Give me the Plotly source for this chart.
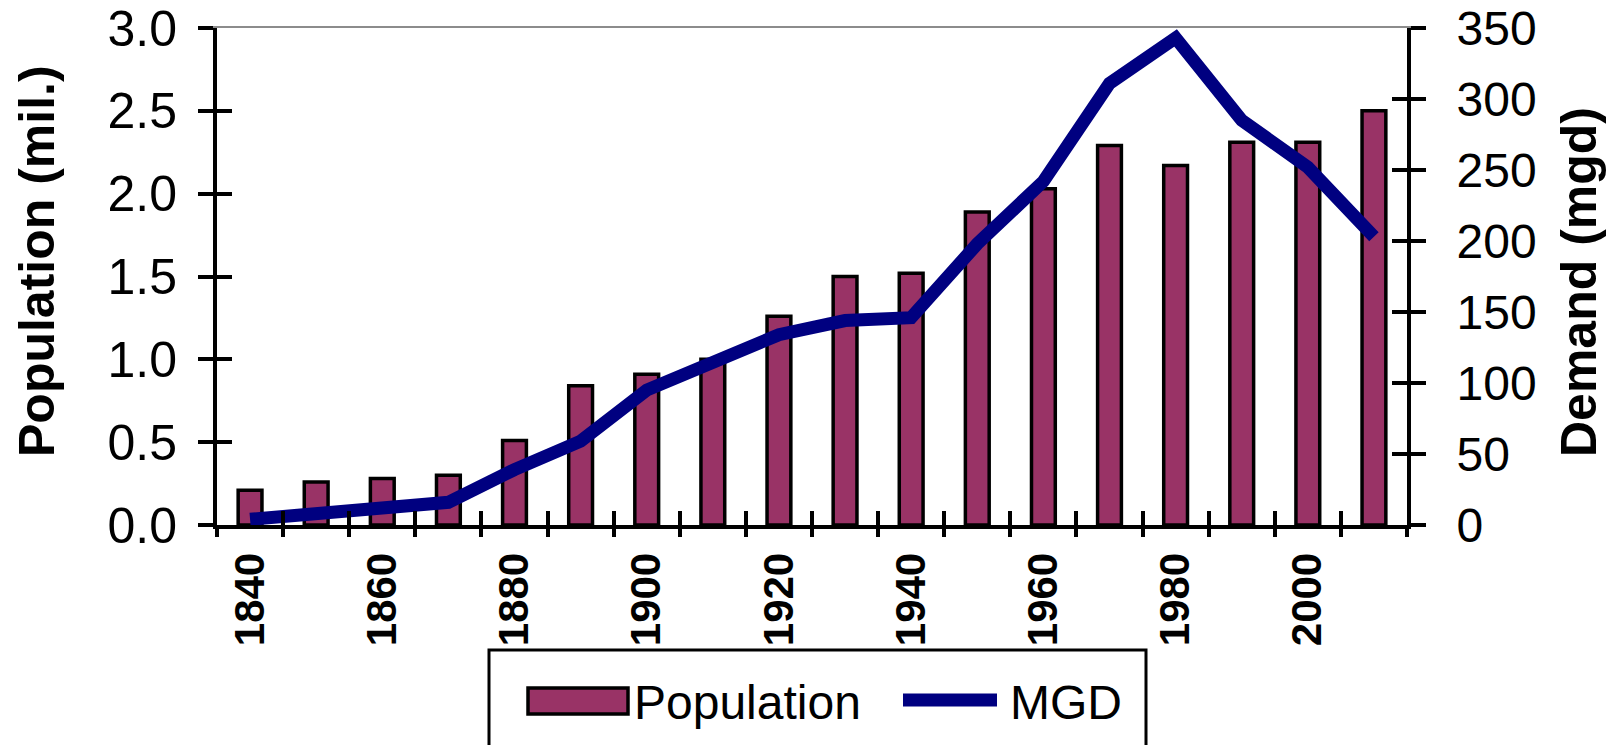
import plotly.graph_objects as go

years = [1840, 1850, 1860, 1870, 1880, 1890, 1900, 1910, 1920,
         1930, 1940, 1950, 1960, 1970, 1980, 1990, 2000, 2010]
population = [0.21, 0.26, 0.28, 0.30, 0.51, 0.84, 0.91, 1.00, 1.26,
              1.50, 1.52, 1.89, 2.03, 2.29, 2.17, 2.31, 2.31, 2.50]
mgd = [4, 8, 11, 16, 39, 59, 95, 114, 134,
       144, 146, 198, 242, 311, 343, 285, 252, 203]
year_labels = [1840, 1860, 1880, 1900, 1920, 1940, 1960, 1980, 2000]
pop_ticks = [0.0, 0.5, 1.0, 1.5, 2.0, 2.5, 3.0]
mgd_ticks = [0, 50, 100, 150, 200, 250, 300, 350]

FONT = "Arial, 'Liberation Sans', sans-serif"
W, H = 1623, 745
L, R, T, B = 217, 1407, 28, 525   # plot area in px

bar_color = "#993366"
line_color = "#000080"

x_range = [years[0] - 5, years[-1] + 5]
boundaries = [y - 5 for y in years] + [years[-1] + 5]


def px(x):
    return (x - L) / (R - L)


def py(y):
    return (B - y) / (B - T)


fig = go.Figure()
fig.add_trace(go.Bar(
              x = years,
              y = population,
              width = 3.6,
              marker = dict(color=bar_color, line=dict(color="black", width=3.5)),
              name = "Population",
              yaxis = "y"))

fig.add_trace(go.Scatter(
              x = years,
              y = mgd,
              mode = "lines",
              line = dict(color=line_color, width=13),
              name = "MGD",
              yaxis = "y2"))

# empty traces so that the extra tick-only axes get drawn
for xa, ya in [("x2", "y"), ("x3", "y"), ("x4", "y"), ("x", "y3"), ("x", "y4")]:
    fig.add_trace(go.Scatter(x=[None], y=[None], xaxis=xa, yaxis=ya,
                             showlegend=False, hoverinfo="skip"))

tick_axis = dict(range=x_range, tickmode="array", tickvals=boundaries,
                 showticklabels=False, showgrid=False, zeroline=False,
                 tickcolor="black", tickwidth=4, overlaying="x", anchor="y",
                 visible=True, automargin=False)

fig.update_layout(
    width = W, height = H,
    margin = dict(l=L, r=W - R, t=T, b=H - B),
    paper_bgcolor = "white", plot_bgcolor = "white",
    showlegend = False,
    font = dict(family=FONT, color="black"),
    xaxis = dict(range=x_range, tickmode="array", tickvals=year_labels,
                 ticks="", tickangle=-90, ticklabelstandoff=7,
                 tickfont=dict(size=42, weight="bold"),
                 showline=True, linecolor="black", linewidth=4,
                 showgrid=False, zeroline=False, automargin=False),
    xaxis2 = dict(tick_axis, ticks="outside", ticklen=11),
    xaxis3 = dict(tick_axis, ticks="inside", ticklen=14),
    xaxis4 = dict(range=x_range, overlaying="x", anchor="y", side="top",
                  showline=True, linecolor="#8c8c8c", linewidth=2,
                  ticks="", showticklabels=False, showgrid=False, zeroline=False,
                  visible=True, automargin=False),
    yaxis = dict(range=[0, 3], tickmode="array", tickvals=pop_ticks,
                 tickformat=".1f", ticks="outside", ticklen=15, tickwidth=4,
                 tickcolor="black", tickfont=dict(size=50),
                 ticklabelstandoff=11, ticklabeloverflow="allow",
                 showline=True, linecolor="black", linewidth=4,
                 showgrid=False, zeroline=False, automargin=False),
    yaxis2 = dict(range=[0, 350], tickmode="array", tickvals=mgd_ticks,
                  overlaying="y", side="right", anchor="x",
                  ticks="outside", ticklen=15, tickwidth=4, tickcolor="black",
                  tickfont=dict(size=48), ticklabelstandoff=21,
                  ticklabeloverflow="allow",
                  showline=True, linecolor="black", linewidth=4,
                  showgrid=False, zeroline=False, automargin=False),
    yaxis3 = dict(range=[0, 3], tickmode="array", tickvals=pop_ticks,
                  overlaying="y", side="left", anchor="x",
                  ticks="inside", ticklen=15, tickwidth=4, tickcolor="black",
                  showticklabels=False, showgrid=False, zeroline=False,
                  visible=True, automargin=False),
    yaxis4 = dict(range=[0, 350], tickmode="array", tickvals=mgd_ticks,
                  overlaying="y", side="right", anchor="x",
                  ticks="inside", ticklen=15, tickwidth=4, tickcolor="black",
                  showticklabels=False, showgrid=False, zeroline=False,
                  visible=True, automargin=False),
)

# axis titles
fig.add_annotation(text="<b>Population (mil.)</b>", xref="paper", yref="paper",
                   x=px(37), y=py(261), textangle=-90, showarrow=False,
                   xanchor="center", yanchor="middle",
                   font=dict(size=50, family=FONT))
fig.add_annotation(text="<b>Demand (mgd)</b>", xref="paper", yref="paper",
                   x=px(1579), y=py(282), textangle=-90, showarrow=False,
                   xanchor="center", yanchor="middle",
                   font=dict(size=50, family=FONT))

# legend box drawn below the axis, partly cut off by the page edge
fig.add_shape(type="rect", xref="paper", yref="paper",
              x0=px(489), x1=px(1146), y0=py(650), y1=py(770),
              line=dict(color="black", width=3), fillcolor="white", layer="above")
fig.add_shape(type="rect", xref="paper", yref="paper",
              x0=px(528), x1=px(628), y0=py(688), y1=py(714),
              line=dict(color="black", width=3.5), fillcolor=bar_color, layer="above")
fig.add_shape(type="line", xref="paper", yref="paper",
              x0=px(903), x1=px(997), y0=py(700), y1=py(700),
              line=dict(color=line_color, width=13), layer="above")
fig.add_annotation(text="Population", xref="paper", yref="paper",
                   x=px(632), y=py(702), xanchor="left", yanchor="middle",
                   showarrow=False, font=dict(size=48, family=FONT))
fig.add_annotation(text="MGD", xref="paper", yref="paper",
                   x=px(1008), y=py(702), xanchor="left", yanchor="middle",
                   showarrow=False, font=dict(size=48, family=FONT))

# the page's default 8px body margin would push the chart off the window
fig.write_html("out.html", config={"displayModeBar": False},
               post_script="document.body.style.margin = '0';")
